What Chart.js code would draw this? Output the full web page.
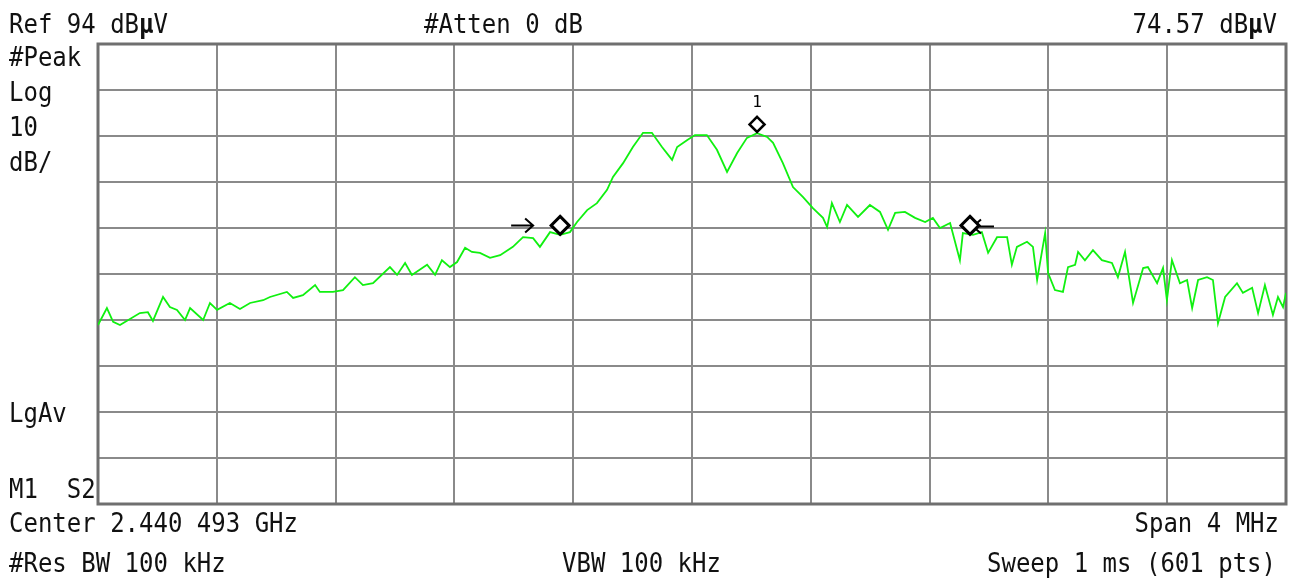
<!DOCTYPE html>
<html lang="en">
<head>
  <meta charset="UTF-8">
  <title>Spectrum - 2.440 493 GHz</title>
  <script src="https://cdn.jsdelivr.net/npm/chart.js@4.4.1/dist/chart.umd.min.js"></script>
  <style>
    html, body {
      margin: 0;
      padding: 0;
      background: #ffffff;
      overflow: hidden;
    }
    #wrap {
      position: relative;
      width: 1289px;
      height: 578px;
    }
    #spectrum {
      position: absolute;
      left: 0;
      top: 0;
    }
    .lbl {
      position: absolute;
      font-family: "DejaVu Sans Mono", "Liberation Mono", monospace;
      font-size: 24px;
      line-height: 24px;
      color: #111;
      white-space: pre;
      transform: scaleY(1.12);
    }
    .r { text-align: right; }
  </style>
</head>
<body>
  <div id="wrap">
    <canvas id="spectrum" width="1289" height="578"></canvas>

    <!-- analyzer annotations -->
    <div class="lbl" style="left:9px; top:12px;">Ref 94 dB<b>µ</b>V</div>
    <div class="lbl" style="left:424px; top:12px;">#Atten 0 dB</div>
    <div class="lbl r" style="right:12px; top:12px;">74.57 dB<b>µ</b>V</div>

    <div class="lbl" style="left:9px; top:45px;">#Peak</div>
    <div class="lbl" style="left:9px; top:80px;">Log</div>
    <div class="lbl" style="left:9px; top:115px;">10</div>
    <div class="lbl" style="left:9px; top:150px;">dB/</div>
    <div class="lbl" style="left:9px; top:401px;">LgAv</div>
    <div class="lbl" style="left:9px; top:477px;">M1  S2</div>

    <div class="lbl" style="left:9px; top:511px;">Center 2.440 493 GHz</div>
    <div class="lbl r" style="right:10px; top:511px;">Span 4 MHz</div>
    <div class="lbl" style="left:9px; top:551px;">#Res BW 100 kHz</div>
    <div class="lbl" style="left:562px; top:551px;">VBW 100 kHz</div>
    <div class="lbl r" style="right:13px; top:551px;">Sweep 1 ms (601 pts)</div>
  </div>

  <script>
    // Frequency offset from centre (kHz) and trace level (dBuV)
    const freqOffsetKHz = [
      -2000, -1970, -1949, -1926, -1859, -1832, -1815, -1781, -1758, -1734,
      -1707, -1690, -1646, -1623, -1599, -1556, -1522, -1488, -1444, -1421,
      -1364, -1343, -1310, -1269, -1253, -1209, -1175, -1135, -1108, -1074,
      -1017, -993, -966, -943, -892, -865, -842, -815, -791, -764,
      -741, -714, -680, -646, -603, -569, -535, -512, -478, -444,
      -411, -387, -353, -320, -286, -266, -232, -199, -165, -135,
      -101, -67, -50, -17, 10, 50, 84, 118, 152, 185,
      219, 253, 273, 306, 340, 374, 407, 441, 455, 471,
      498, 522, 559, 599, 633, 660, 684, 717, 751, 785,
      811, 835, 869, 902, 912, 946, 976, 997, 1027, 1061,
      1077, 1094, 1128, 1148, 1162, 1189, 1199, 1222, 1249, 1266,
      1290, 1300, 1323, 1350, 1380, 1414, 1434, 1458, 1485, 1519,
      1535, 1566, 1586, 1599, 1616, 1643, 1667, 1684, 1704, 1734,
      1754, 1771, 1795, 1835, 1855, 1886, 1906, 1929, 1956, 1973,
      1990, 2000
    ];
    const levelDbuV = [
      32.9, 36.6, 33.6, 32.9, 35.5, 35.7, 33.8, 39.0, 36.8, 36.2,
      34.0, 36.6, 34.0, 37.7, 36.2, 37.7, 36.4, 37.7, 38.3, 39.0,
      40.1, 38.8, 39.4, 41.6, 40.1, 40.1, 40.5, 43.3, 41.6, 42.0,
      45.5, 43.8, 46.4, 43.8, 46.0, 43.8, 47.0, 45.5, 46.6, 49.7,
      48.8, 48.6, 47.5, 48.1, 49.9, 52.0, 51.8, 49.9, 53.1, 52.5,
      53.1, 55.3, 57.9, 59.4, 62.3, 65.1, 68.1, 71.6, 74.7, 74.7,
      71.6, 68.8, 71.6, 73.1, 74.2, 74.2, 71.0, 66.2, 70.3, 73.6,
      74.6, 73.8, 72.5, 68.1, 62.9, 60.7, 58.3, 56.2, 54.2, 59.4,
      55.3, 59.0, 56.4, 59.0, 57.5, 53.6, 57.3, 57.5, 56.2, 55.3,
      56.2, 54.0, 55.1, 47.0, 52.9, 52.5, 53.1, 48.6, 52.0, 52.0,
      46.0, 49.9, 51.0, 49.9, 42.7, 52.9, 44.2, 40.5, 40.1, 45.5,
      46.0, 48.8, 47.0, 49.2, 47.0, 46.4, 43.3, 48.8, 37.7, 45.3,
      45.5, 42.0, 45.3, 38.3, 47.0, 42.0, 42.7, 36.6, 42.7, 43.3,
      42.7, 33.3, 39.0, 42.0, 39.9, 41.0, 35.5, 41.6, 35.1, 39.0,
      36.8, 39.9
    ];

    // Grid: 10 divisions each way (4 MHz span, ref 94 dBuV at 10 dB/div)
    const xGridKHz = [-2000, -1600, -1200, -800, -400, 0, 400, 800, 1200, 1600, 2000];
    const yGridDb = [-6, 4, 14, 24, 34, 44, 54, 64, 74, 84, 94];

    // Markers: M1 at the peak, plus the -20 dB bandwidth pair
    const peakMarkerKHz = [219];
    const peakMarkerDb = [74.57];
    const bwMarkerKHz = [-444, 936];
    const bwMarkerDb = [54.57, 54.57];

    const points = freqOffsetKHz.map((f, i) => ({ x: f, y: levelDbuV[i] }));

    function drawDiamond(ctx, cx, cy, r, w) {
      ctx.beginPath();
      ctx.moveTo(cx, cy - r);
      ctx.lineTo(cx + r, cy);
      ctx.lineTo(cx, cy + r);
      ctx.lineTo(cx - r, cy);
      ctx.closePath();
      ctx.fillStyle = '#ffffff';
      ctx.fill();
      ctx.strokeStyle = '#000000';
      ctx.lineWidth = w;
      ctx.stroke();
    }

    function drawArrow(ctx, x0, x1, y) {
      // arrow from x0 to x1, head at x1
      const dir = x1 > x0 ? 1 : -1;
      ctx.beginPath();
      ctx.moveTo(x0, y);
      ctx.lineTo(x1, y);
      ctx.moveTo(x1 - dir * 8, y - 7);
      ctx.lineTo(x1, y);
      ctx.lineTo(x1 - dir * 8, y + 7);
      ctx.strokeStyle = '#000000';
      ctx.lineWidth = 2;
      ctx.stroke();
    }

    // Plot frame and marker symbols
    const analyzerPlugin = {
      id: 'analyzer',
      beforeDatasetsDraw(chart) {
        const { ctx, chartArea: a } = chart;
        ctx.save();
        ctx.strokeStyle = '#6f6f6f';
        ctx.lineWidth = 3;
        ctx.strokeRect(a.left, a.top, a.right - a.left, a.bottom - a.top);
        ctx.restore();
      },
      afterDatasetsDraw(chart) {
        const { ctx } = chart;
        const xs = chart.scales.x;
        const ys = chart.scales.y;
        ctx.save();

        // N dB markers with their arrows
        bwMarkerKHz.forEach((f, i) => {
          const px = xs.getPixelForValue(f);
          const py = ys.getPixelForValue(bwMarkerDb[i]);
          if (i === 0) {
            drawArrow(ctx, px - 49, px - 27, py);
          } else {
            drawArrow(ctx, px + 24, px + 3, py + 1);
          }
          drawDiamond(ctx, px, py, 9, 3);
        });

        // M1 sits on top of the peak with its number above
        peakMarkerKHz.forEach((f, i) => {
          const px = xs.getPixelForValue(f);
          const py = ys.getPixelForValue(peakMarkerDb[i]);
          drawDiamond(ctx, px, py - 9, 7.5, 2.5);
          ctx.fillStyle = '#000000';
          ctx.font = '16px "DejaVu Sans Mono", monospace';
          ctx.textAlign = 'center';
          ctx.textBaseline = 'middle';
          ctx.fillText(String(i + 1), px, py - 31);
        });

        ctx.restore();
      }
    };

    const ctx = document.getElementById('spectrum').getContext('2d');
    new Chart(ctx, {
      type: 'line',
      data: {
        datasets: [{
          data: points,
          borderColor: '#10f010',
          borderWidth: 1.8,
          pointRadius: 0,
          tension: 0,
          fill: false
        }]
      },
      options: {
        responsive: false,
        animation: false,
        events: [],
        layout: {
          padding: { left: 98, top: 44, right: 3, bottom: 74 }
        },
        plugins: {
          legend: { display: false },
          tooltip: { enabled: false }
        },
        scales: {
          x: {
            type: 'linear',
            min: -2000,
            max: 2000,
            afterBuildTicks: s => { s.ticks = xGridKHz.map(v => ({ value: v })); },
            afterFit: s => { s.height = 0; },
            ticks: { display: false },
            border: { display: false },
            grid: { color: '#8a8a8a', lineWidth: 2, drawTicks: false }
          },
          y: {
            type: 'linear',
            min: -6,
            max: 94,
            afterBuildTicks: s => { s.ticks = yGridDb.map(v => ({ value: v })); },
            afterFit: s => { s.width = 0; },
            ticks: { display: false },
            border: { display: false },
            grid: { color: '#8a8a8a', lineWidth: 2, drawTicks: false }
          }
        }
      },
      plugins: [analyzerPlugin]
    });
  </script>
</body>
</html>
